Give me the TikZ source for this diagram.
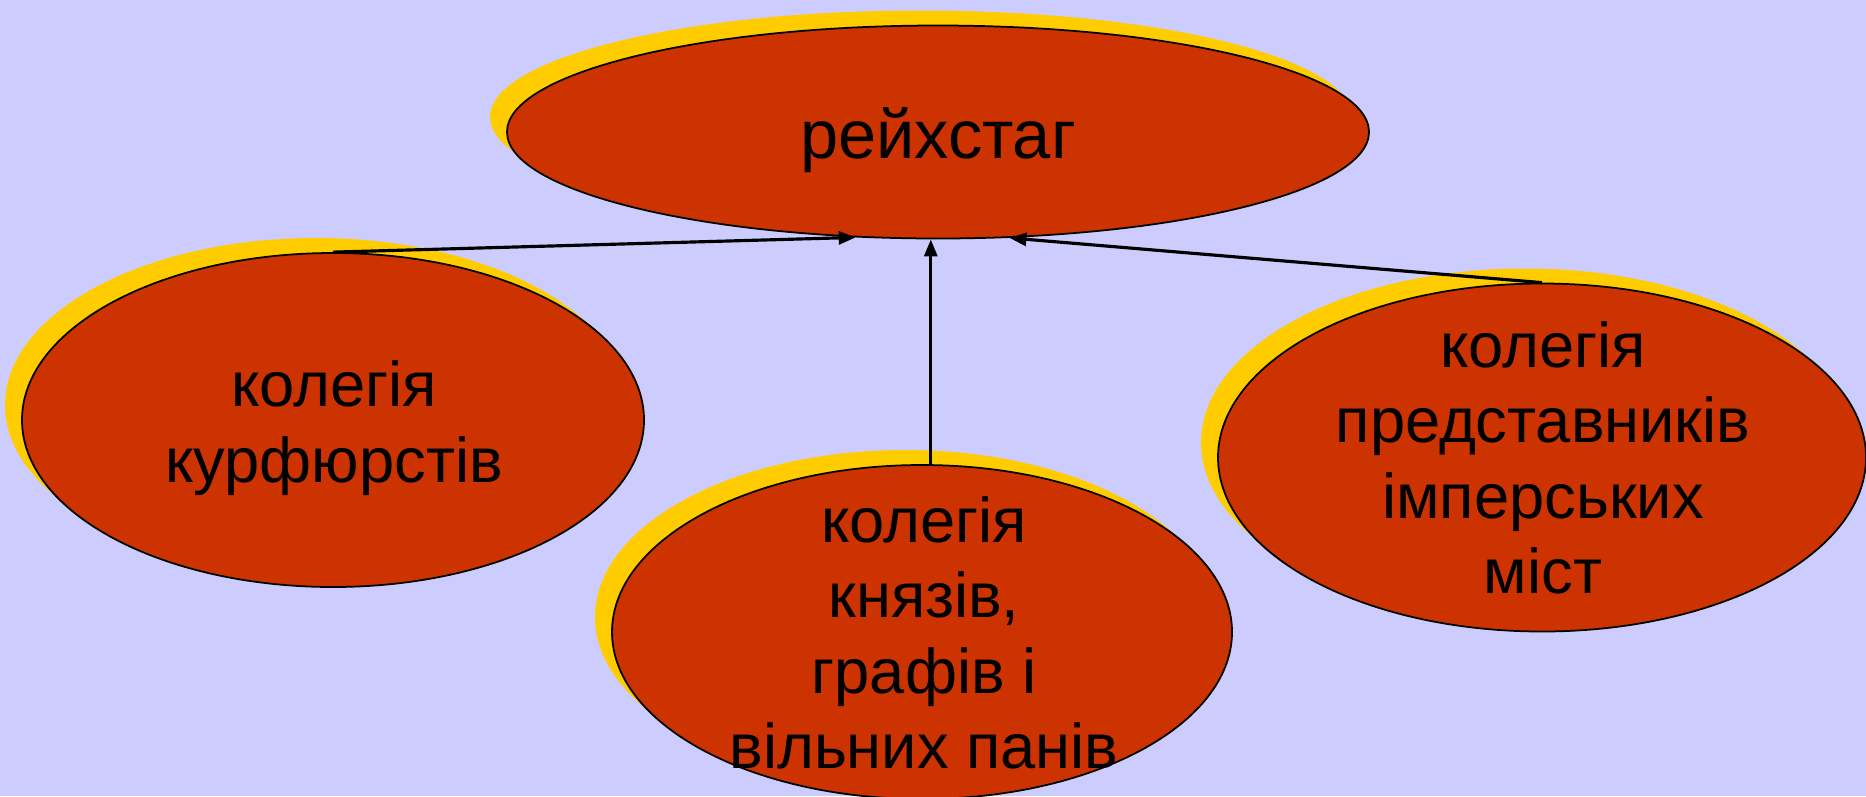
\documentclass[tikz,border=0pt]{standalone}
\usepackage{fontspec}
\setmainfont{Liberation Sans}
\usetikzlibrary{arrows.meta, positioning, shapes.geometric, shadows}
\definecolor{lavender}{HTML}{CCCCFF}
\definecolor{brick}{HTML}{CC3300}
\definecolor{gold}{HTML}{FFCC00}

\begin{document}
\begin{tikzpicture}[
    chamber/.style={ellipse, draw=black, line width=0.5pt, fill=brick, inner sep=0pt,
      general shadow={fill=gold, shadow xshift=-0.17cm, shadow yshift=0.15cm}},
    caption/.style={align=center, inner sep=0pt, font=\fontsize{18}{21.5}\selectfont},
    link/.style={-{Triangle[length=0.17cm, width=0.13cm]}, line width=0.9pt}]
  \fill[lavender] (0,0) rectangle (18.66,-7.96);
  \useasboundingbox (0,0) rectangle (18.66,-7.96);

  % Reichstag and its three colleges
  \node[chamber, minimum width=8.62cm, minimum height=2.13cm] (reich) at (9.38,-1.32) {};
  \node[chamber, minimum width=6.22cm, minimum height=3.34cm] (electors) at (3.33,-4.20) {};
  \node[chamber, minimum width=6.20cm, minimum height=3.34cm] (princes) at (9.22,-6.32) {};
  \node[chamber, minimum width=6.48cm, minimum height=3.48cm] (cities) at (15.42,-4.575) {};

  \node[caption, anchor=base, font=\fontsize{19.5}{22}\selectfont] (reich-t) at (9.38,-1.58) {рейхстаг};
  \node[caption] (electors-t) at (3.34,-4.28) {колегія\\курфюрстів};
  \node[caption] (princes-t) at (9.24,-6.33) {колегія\\князів,\\графів і\\вільних панів};
  \node[caption] (cities-t) at (15.43,-4.58) {колегія\\представників\\імперських\\міст};

  % Arrows
  \draw[link] (electors.north) -- (reich.-128.5);
  \draw[link] (princes.87) -- (princes.87 |- reich.south);
  \draw[link] (cities.north) -- (reich.-56.3);
\end{tikzpicture}
\end{document}
